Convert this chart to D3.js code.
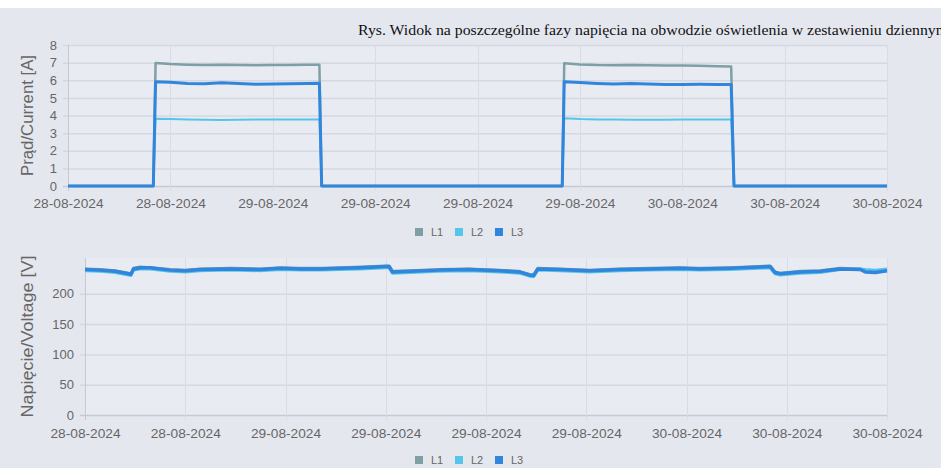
<!DOCTYPE html>
<html>
<head>
<meta charset="utf-8">
<script src="https://cdn.jsdelivr.net/npm/d3@7/dist/d3.min.js"></script>
<style>
  html, body { margin: 0; padding: 0; background: #e5e7ef; }
  svg { display: block; }
</style>
</head>
<body>
<svg id="c" width="941" height="468"></svg>
<script>
// ---------- DATA ----------
const titleText = "Rys. Widok na poszczególne fazy napięcia na obwodzie oświetlenia w zestawieniu dziennym";
const seriesNames = ["L1", "L2", "L3"];
const seriesColors = ["#7f9fa6", "#55c6ea", "#2f86dc"];
const tickTimes = ["2024-08-28T15:00", "2024-08-28T21:00", "2024-08-29T03:00", "2024-08-29T09:00",
  "2024-08-29T15:00", "2024-08-29T21:00", "2024-08-30T03:00", "2024-08-30T09:00", "2024-08-30T15:00"];
const tickLabels = ["28-08-2024", "28-08-2024", "29-08-2024", "29-08-2024", "29-08-2024",
  "29-08-2024", "30-08-2024", "30-08-2024", "30-08-2024"];
const currentTicks = [0, 1, 2, 3, 4, 5, 6, 7, 8];
const voltageTicks = [0, 50, 100, 150, 200];

// Current [A]
const cTimes = ["2024-08-28T15:00", "2024-08-28T20:00", "2024-08-28T20:08", "2024-08-28T21:00", "2024-08-28T22:00",
  "2024-08-28T23:00", "2024-08-29T00:00", "2024-08-29T01:00", "2024-08-29T02:00", "2024-08-29T03:00",
  "2024-08-29T04:00", "2024-08-29T05:00", "2024-08-29T05:44", "2024-08-29T05:52", "2024-08-29T12:00",
  "2024-08-29T19:58", "2024-08-29T20:05", "2024-08-29T21:00", "2024-08-29T22:00", "2024-08-29T23:00",
  "2024-08-30T00:00", "2024-08-30T01:00", "2024-08-30T02:00", "2024-08-30T03:00", "2024-08-30T04:00",
  "2024-08-30T05:00", "2024-08-30T05:52", "2024-08-30T06:02", "2024-08-30T15:00"];
const cL1 = [0, 0, 6.98, 6.92, 6.88, 6.86, 6.88, 6.86, 6.85, 6.86, 6.87, 6.88, 6.88, 0, 0,
  0, 6.96, 6.90, 6.86, 6.85, 6.87, 6.85, 6.83, 6.84, 6.82, 6.80, 6.78, 0, 0];
const cL2 = [0, 0, 3.82, 3.80, 3.78, 3.76, 3.75, 3.76, 3.77, 3.77, 3.78, 3.78, 3.78, 0, 0,
  0, 3.84, 3.80, 3.78, 3.77, 3.76, 3.76, 3.76, 3.77, 3.77, 3.77, 3.77, 0, 0];
const cL3 = [0, 0, 5.92, 5.88, 5.82, 5.80, 5.86, 5.82, 5.78, 5.79, 5.80, 5.82, 5.83, 0, 0,
  0, 5.92, 5.87, 5.82, 5.79, 5.81, 5.79, 5.76, 5.76, 5.77, 5.76, 5.76, 0, 0];

// Voltage [V]
const vTimes = ["2024-08-28T15:00", "2024-08-28T15:54", "2024-08-28T16:48", "2024-08-28T17:36", "2024-08-28T17:45",
  "2024-08-28T17:54", "2024-08-28T18:18", "2024-08-28T18:54", "2024-08-28T20:06", "2024-08-28T21:00",
  "2024-08-28T21:54", "2024-08-28T23:42", "2024-08-29T01:30", "2024-08-29T02:42", "2024-08-29T03:54",
  "2024-08-29T05:06", "2024-08-29T06:18", "2024-08-29T07:30", "2024-08-29T09:00", "2024-08-29T09:12",
  "2024-08-29T09:24", "2024-08-29T10:30", "2024-08-29T12:12", "2024-08-29T14:00", "2024-08-29T15:48",
  "2024-08-29T17:00", "2024-08-29T17:36", "2024-08-29T17:51", "2024-08-29T18:06", "2024-08-29T19:24",
  "2024-08-29T21:12", "2024-08-29T23:00", "2024-08-30T00:48", "2024-08-30T02:36", "2024-08-30T03:48",
  "2024-08-30T05:36", "2024-08-30T07:24", "2024-08-30T08:00", "2024-08-30T08:18", "2024-08-30T08:36",
  "2024-08-30T09:48", "2024-08-30T11:00", "2024-08-30T12:12", "2024-08-30T13:24", "2024-08-30T13:42",
  "2024-08-30T14:18", "2024-08-30T15:00"];
const vL1 = [241, 240, 238, 234, 233, 242, 244, 243, 240, 239, 241, 242, 241, 243, 242,
  242, 243, 244, 246, 246, 237, 238, 240, 241, 239, 237, 232, 231, 242, 241,
  239, 241, 242, 243, 242, 243, 245, 246, 236, 234, 237, 238, 242, 241, 238,
  237, 240];
const vL2 = [238, 237, 235, 231, 230, 239, 241, 241, 237, 236, 238, 239, 238, 240, 239,
  239, 240, 241, 243, 243, 234, 235, 237, 238, 236, 234, 229, 228, 239, 238,
  236, 238, 239, 240, 239, 240, 242, 243, 233, 231, 234, 235, 240, 241, 240,
  239, 241];
const vL3 = [240, 239, 237, 233, 232, 241, 243, 243, 239, 238, 240, 241, 240, 242, 241,
  241, 242, 243, 245, 245, 236, 237, 239, 240, 238, 236, 231, 230, 241, 240,
  238, 240, 241, 242, 241, 242, 244, 245, 235, 233, 236, 237, 241, 240, 236,
  235, 238];

// ---------- CHART ----------
const parse = d3.timeParse("%Y-%m-%dT%H:%M");
const svg = d3.select("#c");
svg.append("rect").attr("x", 0).attr("y", 0).attr("width", 941).attr("height", 8).attr("fill", "#ffffff");

function drawPanel(opts) {
  const { left, right, top, bottom, yMax, yTicks, times, series, yTitle, yTitleLen, legendY, xLabelY, lineWidths } = opts;
  const t = times.map(parse);
  const x = d3.scaleTime().domain([parse(tickTimes[0]), parse(tickTimes[tickTimes.length - 1])]).range([left, right]);
  const y = d3.scaleLinear().domain([0, yMax]).range([bottom, top]);
  const g = svg.append("g");

  g.append("rect").attr("x", left).attr("y", top).attr("width", right - left).attr("height", bottom - top)
    .attr("fill", "#e9ebf3");

  // horizontal grid
  g.append("g").selectAll("line").data(yTicks).join("line")
    .attr("x1", left - 5).attr("x2", right)
    .attr("y1", d => y(d) + 0.5).attr("y2", d => y(d) + 0.5)
    .attr("stroke", d => d === 0 ? "#c6c9d1" : "#d5d8e0").attr("stroke-width", 1.5);
  // vertical grid
  g.append("g").selectAll("line").data(tickTimes.map(parse)).join("line")
    .attr("x1", d => Math.round(x(d)) + 0.5).attr("x2", d => Math.round(x(d)) + 0.5)
    .attr("y1", top).attr("y2", bottom + 5)
    .attr("stroke", (d, i) => i === 0 ? "#c6c9d1" : "#d9dce4").attr("stroke-width", 1);

  // y tick labels
  const yAxis = d3.axisLeft(y).tickValues(yTicks).tickSize(0).tickPadding(8);
  const ya = g.append("g").attr("transform", `translate(${left - 3},0)`).call(yAxis);
  ya.select(".domain").remove();
  ya.selectAll("text").attr("fill", "#666").style("font-family", "Liberation Sans, Arial, sans-serif")
    .style("font-size", "13px");

  // x tick labels
  const xAxis = d3.axisBottom(x).tickValues(tickTimes.map(parse)).tickSize(0).tickPadding(0)
    .tickFormat((d, i) => tickLabels[i]);
  const xa = g.append("g").attr("transform", `translate(0,${xLabelY})`).call(xAxis);
  xa.select(".domain").remove();
  xa.selectAll("text").attr("fill", "#666").attr("dy", "0.35em")
    .style("font-family", "Liberation Sans, Arial, sans-serif").style("font-size", "13px")
    .attr("textLength", 70).attr("lengthAdjust", "spacingAndGlyphs");

  // lines
  const line = d3.line().x((d, i) => x(t[i])).y(d => y(d));
  series.forEach((vals, k) => {
    g.append("path").datum(vals).attr("d", line)
      .attr("fill", "none").attr("stroke", seriesColors[k]).attr("stroke-width", lineWidths[k])
      .attr("stroke-linejoin", "round");
  });

  // y title
  g.append("text").attr("transform", `translate(${33},${(top + bottom) / 2}) rotate(-90)`)
    .attr("text-anchor", "middle").attr("fill", "#666")
    .style("font-family", "Liberation Sans, Arial, sans-serif").style("font-size", "16px")
    .attr("textLength", yTitleLen).attr("lengthAdjust", "spacingAndGlyphs")
    .text(yTitle);

  // legend
  const legX = [415, 455, 495];
  const lg = g.append("g");
  seriesNames.forEach((n, k) => {
    lg.append("rect").attr("x", legX[k]).attr("y", legendY - 4).attr("width", 8).attr("height", 8)
      .attr("fill", seriesColors[k]);
    lg.append("text").attr("x", legX[k] + 16).attr("y", legendY).attr("dy", "0.35em")
      .attr("fill", "#666").style("font-family", "Liberation Sans, Arial, sans-serif").style("font-size", "11px")
      .text(n);
  });
}

drawPanel({
  left: 68, right: 887, top: 45, bottom: 186, yMax: 8, yTicks: currentTicks,
  times: cTimes, series: [cL1, cL2, cL3], yTitle: "Prąd/Current [A]", yTitleLen: 121,
  legendY: 232, xLabelY: 203, lineWidths: [2.5, 2, 3]
});
drawPanel({
  left: 85, right: 887, top: 258, bottom: 415, yMax: 259, yTicks: voltageTicks,
  times: vTimes, series: [vL1, vL2, vL3], yTitle: "Napięcie/Voltage [V]", yTitleLen: 162,
  legendY: 460, xLabelY: 433, lineWidths: [3, 3, 3.5]
});

// title (clipped by the right edge as in the original)
svg.append("text").attr("x", 358).attr("y", 35)
  .attr("fill", "#111").style("font-family", "Liberation Serif, 'Times New Roman', serif").style("font-size", "14px")
  .attr("textLength", 590).attr("lengthAdjust", "spacingAndGlyphs")
  .text(titleText);
</script>
</body>
</html>
